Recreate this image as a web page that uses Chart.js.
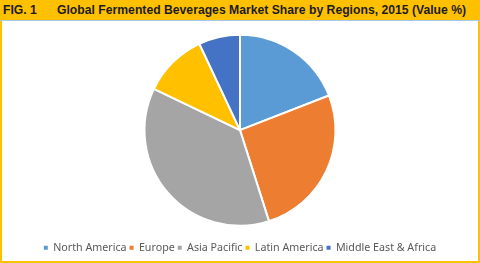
<!DOCTYPE html>
<html><head><meta charset="utf-8">
<script src="https://cdn.jsdelivr.net/npm/chart.js@4.4.0/dist/chart.umd.min.js"></script>
<style>
html,body{margin:0;padding:0;background:#fff;}
#frame{position:absolute;left:0;top:0;width:476px;height:261px;border:2px solid #FFC000;border-top:none;background:#fff;}
#hdr{position:absolute;left:0;top:0;width:480px;height:20px;background:#FFC000;border-bottom:1px solid #A9C8E8;font-family:"Liberation Sans",Arial,sans-serif;font-weight:bold;font-size:12.2px;color:#1c1c1c;line-height:20px;white-space:nowrap;}
#hdr .fig{position:absolute;left:3px;top:0;}
#hdr .ttl{position:absolute;left:57px;top:0;}
#wrap{position:absolute;left:2px;top:21px;width:476px;height:242px;}
</style></head><body>
<div id="frame"></div>
<div id="hdr"><span class="fig">FIG. 1</span><span class="ttl">Global Fermented Beverages Market Share by Regions, 2015 (Value %)</span></div>
<div id="wrap"><canvas id="c"></canvas></div>
<script>
const categories = ["North America", "Europe", "Asia Pacific", "Latin America", "Middle East & Africa"];
const shareValues = [19.1, 26.0, 37.0, 10.9, 7.0];
const sliceColors = ["#5B9BD5", "#ED7D31", "#A5A5A5", "#FFC000", "#4472C4"];

new Chart(document.getElementById('c'), {
  type: 'pie',
  data: {
    labels: categories,
    datasets: [{
      data: shareValues,
      backgroundColor: sliceColors,
      borderColor: '#ffffff',
      borderWidth: 2
    }]
  },
  options: {
    responsive: true,
    maintainAspectRatio: false,
    animation: false,
    radius: 95.5,
    layout: { padding: { top: 0, bottom: 0, left: 0, right: 0 } },
    plugins: {
      tooltip: { enabled: false },
      legend: {
        position: 'bottom',
        labels: {
          boxWidth: 4,
          boxHeight: 4,
          padding: 3,
          color: '#595959',
          font: { family: '"Noto Sans", sans-serif', size: 10.7 },
          generateLabels: (chart) => Chart.overrides.pie.plugins.legend.labels.generateLabels(chart).map(l => Object.assign(l, { lineWidth: 0, strokeStyle: l.fillStyle }))
        }
      }
    }
  }
});
</script>
</body></html>
